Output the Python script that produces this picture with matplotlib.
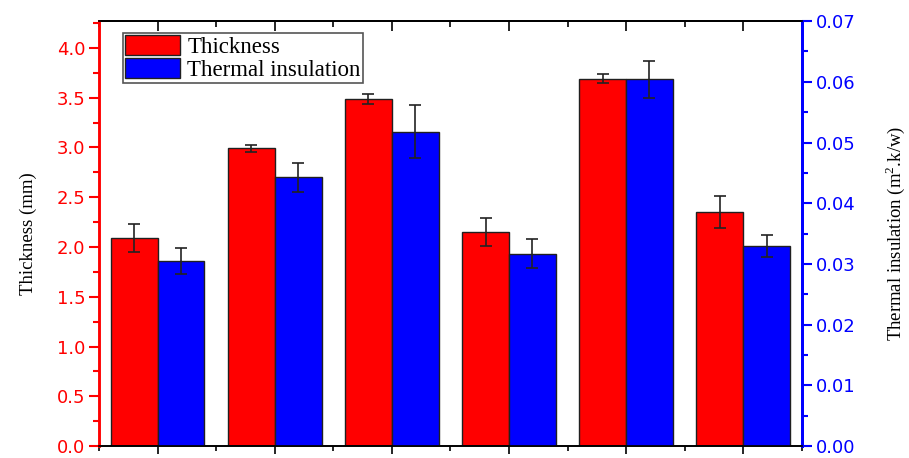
import matplotlib
matplotlib.use("Agg")
import matplotlib.pyplot as plt
from matplotlib.ticker import MultipleLocator, NullFormatter, FormatStrFormatter
import numpy as np

# Sample groups (unlabelled on the x axis)
groups = [1, 2, 3, 4, 5, 6]

thickness = [2.09, 2.99, 3.49, 2.15, 3.69, 2.35]          # mm
thickness_err = [0.14, 0.035, 0.05, 0.14, 0.045, 0.16]

insulation = [0.0305, 0.0443, 0.0518, 0.0317, 0.0604, 0.0330]   # m2.k/w
insulation_err = [0.0021, 0.0024, 0.0043, 0.0024, 0.0031, 0.0018]

serif = ["Liberation Serif", "DejaVu Serif"]
sans = ["DejaVu Sans"]

plt.rcParams["mathtext.fontset"] = "custom"
plt.rcParams["mathtext.rm"] = "Liberation Serif"

fig = plt.figure(figsize=(9.09, 4.58), dpi=100)
ax = fig.add_axes([0.109, 0.026, 0.773, 0.928])
ax2 = ax.twinx()

x = np.arange(len(groups))
w = 0.4
err_kw = dict(ecolor="#222222", elinewidth=1.2, capsize=4.5, capthick=1.2)

b1 = ax.bar(x - w / 2, thickness, w, color="#ff0000", edgecolor="#202020",
            linewidth=1.0, yerr=thickness_err, error_kw=err_kw,
            label="Thickness", zorder=2)
b2 = ax2.bar(x + w / 2, insulation, w, color="#0000ff", edgecolor="#202020",
             linewidth=1.0, yerr=insulation_err, error_kw=err_kw,
             label="Thermal insulation", zorder=2)

ax.set_xlim(-0.5, 5.5)
ax.set_ylim(0, 4.27)
ax2.set_ylim(0, 0.07)

# x axis: major ticks at group centres, minor between, no labels
ax.xaxis.set_major_locator(MultipleLocator(1))
ax.xaxis.set_minor_locator(MultipleLocator(0.5))
ax.xaxis.set_major_formatter(NullFormatter())
ax.tick_params(axis="x", which="major", direction="out", length=6, width=1.2,
               color="black", top=False)
ax.tick_params(axis="x", which="minor", direction="out", length=3.5, width=1.2,
               color="black", top=False)

top = ax.secondary_xaxis("top")
top.xaxis.set_major_locator(MultipleLocator(1))
top.xaxis.set_minor_locator(MultipleLocator(0.5))
top.xaxis.set_major_formatter(NullFormatter())
top.tick_params(axis="x", which="major", direction="in", length=7, width=1.2)
top.tick_params(axis="x", which="minor", direction="in", length=4, width=1.2)
top.spines["top"].set_linewidth(1.2)

# left axis in red
ax.yaxis.set_major_locator(MultipleLocator(0.5))
ax.yaxis.set_minor_locator(MultipleLocator(0.25))
ax.tick_params(axis="y", which="major", direction="out", length=7, width=1.5,
               colors="#ff0000", labelsize=13, pad=3)
ax.tick_params(axis="y", which="minor", direction="out", length=4, width=1.5,
               colors="#ff0000")
ax.yaxis.set_major_formatter(FormatStrFormatter("%.1f"))
for lbl in ax.get_yticklabels():
    lbl.set_family(sans)

# right axis in blue
ax2.yaxis.set_major_locator(MultipleLocator(0.01))
ax2.yaxis.set_minor_locator(MultipleLocator(0.005))
ax2.tick_params(axis="y", which="major", direction="out", length=7, width=1.5,
                colors="#0000ff", labelsize=13, pad=3)
ax2.tick_params(axis="y", which="minor", direction="out", length=4, width=1.5,
                colors="#0000ff")
ax2.yaxis.set_major_formatter(FormatStrFormatter("%.2f"))
for lbl in ax2.get_yticklabels():
    lbl.set_family(sans)

for a in (ax, ax2):
    a.spines["left"].set_color("#ff0000")
    a.spines["left"].set_linewidth(1.8)
    a.spines["right"].set_color("#0000ff")
    a.spines["right"].set_linewidth(2.0)
    a.spines["top"].set_color("black")
    a.spines["top"].set_linewidth(1.2)
    a.spines["bottom"].set_color("black")
    a.spines["bottom"].set_linewidth(1.2)

ax.set_ylabel("Thickness (mm)", family=serif, fontsize=13.5, color="black",
              labelpad=14)
ax2.set_ylabel("Thermal insulation (m$^{2}$.k/w)", family=serif,
               fontsize=13.5, color="black", labelpad=20)

leg = ax.legend([b1, b2], ["Thickness", "Thermal insulation"],
                loc="upper left", bbox_to_anchor=(0.034, 0.972),
                prop={"family": serif, "size": 16.5}, frameon=True,
                fancybox=False, edgecolor="#555555", framealpha=1,
                handlelength=2.4, handleheight=0.95, handletextpad=0.3,
                borderpad=0.1, labelspacing=0.0, borderaxespad=0)
leg.get_frame().set_linewidth(1.2)
leg.set_zorder(5)

fig.savefig("out.png", dpi=100)
